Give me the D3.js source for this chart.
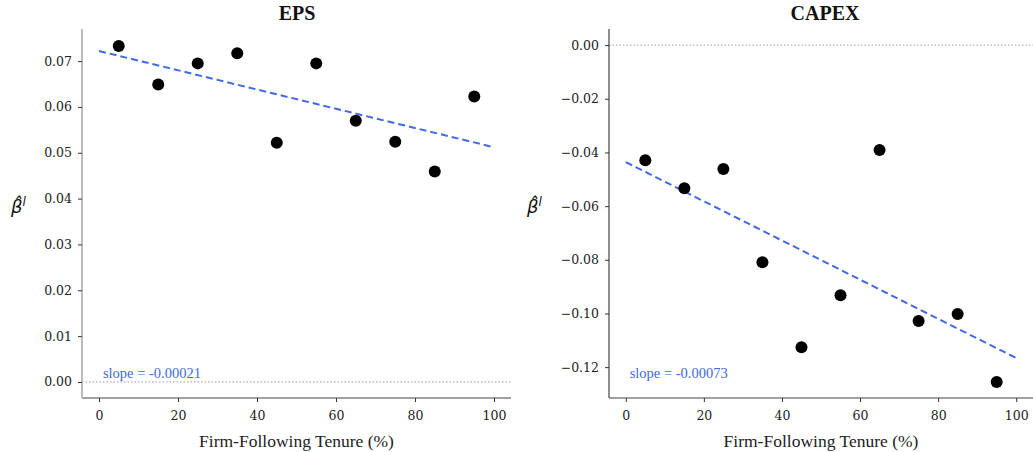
<!DOCTYPE html>
<html>
<head>
<meta charset="utf-8">
<script src="https://cdn.jsdelivr.net/npm/d3@7"></script>
<style>
  html, body { margin: 0; padding: 0; background: #fff; }
  svg { display: block; font-family: "Liberation Serif", "DejaVu Serif", serif; }
</style>
</head>
<body>
<svg id="chart" width="1033" height="452"></svg>
<script>
// Tenure bins (percent of firm-following tenure)
const tenure = [5, 15, 25, 35, 45, 55, 65, 75, 85, 95];
// Estimated coefficients by tenure bin
const epsBeta = [0.0733, 0.0649, 0.0695, 0.0717, 0.0522, 0.0695, 0.0570, 0.0524, 0.0459, 0.0623];
const capexBeta = [-0.0429, -0.0533, -0.0462, -0.0809, -0.1126, -0.0932, -0.0391, -0.1028, -0.1002, -0.1255];
// Fitted lines (intercept, slope)
const epsFit = { intercept: 0.0722, slope: -0.00021 };
const capexFit = { intercept: -0.0436, slope: -0.00073 };
const xTicks = [0, 20, 40, 60, 80, 100];
const epsTicks = [0.00, 0.01, 0.02, 0.03, 0.04, 0.05, 0.06, 0.07];
const capexTicks = [0.00, -0.02, -0.04, -0.06, -0.08, -0.10, -0.12];

const svg = d3.select("#chart");
const blue = "#4169e1";
const tickFont = "'DejaVu Serif', serif";

function panel(opts) {
  const g = svg.append("g");
  const x = d3.scaleLinear().domain([-4.3, 104.3]).range([opts.left, opts.right]);
  const y = d3.scaleLinear().domain(opts.yDomain).range([398, 29]);

  // zero reference line
  g.append("line")
    .attr("x1", opts.left).attr("x2", opts.zeroEnd)
    .attr("y1", y(0)).attr("y2", y(0))
    .attr("stroke", "#999").attr("stroke-width", 1)
    .attr("stroke-dasharray", "1.5,2");

  // axes
  const xAxis = g.append("g").attr("transform", `translate(0,398)`)
    .call(d3.axisBottom(x).tickValues(xTicks).tickSize(4).tickPadding(9).tickFormat(d3.format("d")));
  xAxis.select(".domain").attr("stroke", "#444").attr("stroke-width", 1.2)
    .attr("d", `M${opts.left},0H${opts.right}`);
  xAxis.selectAll(".tick line").attr("stroke", "#333");
  xAxis.selectAll("text").attr("font-size", 12.5).attr("fill", "#222")
    .style("font-family", tickFont);

  const yAxis = g.append("g").attr("transform", `translate(${opts.left},0)`)
    .call(d3.axisLeft(y).tickValues(opts.yTicks).tickSize(4).tickPadding(6)
      .tickFormat(d => d3.format(".2f")(d).replace("-", "\u2212")));
  yAxis.select(".domain").attr("stroke", opts.ySpine).attr("stroke-width", opts.ySpineW)
    .attr("d", `M0,398V29`);
  yAxis.selectAll(".tick line").attr("stroke", "#333");
  yAxis.selectAll("text").attr("font-size", 12.5).attr("fill", "#222")
    .style("font-family", tickFont);

  // fitted trend
  const line = d3.line().x(d => x(d)).y(d => y(opts.fit.intercept + opts.fit.slope * d));
  g.append("path").datum([0, 100]).attr("d", line)
    .attr("fill", "none").attr("stroke", blue).attr("stroke-width", 2)
    .attr("stroke-dasharray", "7,4");

  // coefficient points
  g.selectAll("circle").data(tenure).join("circle")
    .attr("cx", d => x(d))
    .attr("cy", (d, i) => y(opts.values[i]))
    .attr("r", 6).attr("fill", "#000");

  // slope annotation
  g.append("text").attr("x", x(1)).attr("y", 378)
    .attr("font-size", 14.5).attr("fill", blue)
    .text(`slope = ${opts.fit.slope.toFixed(5)}`);

  // title
  g.append("text").attr("x", opts.titleX).attr("y", 20)
    .attr("text-anchor", "middle").attr("font-weight", "bold").attr("font-size", 20)
    .attr("fill", "#111").text(opts.title);

  // x label
  g.append("text").attr("x", (x(0) + x(100)) / 2).attr("y", 447)
    .attr("text-anchor", "middle").attr("font-size", 17.5).attr("fill", "#222")
    .text("Firm-Following Tenure (%)");

  // y label: beta-hat with superscript l
  const yl = g.append("text").attr("x", opts.yLabelX).attr("y", 213)
    .attr("font-size", 18).attr("font-style", "italic").attr("fill", "#111")
    .style("font-family", "'DejaVu Sans', sans-serif");
  yl.append("tspan").text("\u03B2\u0302");
  yl.append("tspan").attr("font-size", 12).attr("dy", -7).text("l");
}

panel({
  title: "EPS", titleX: 297, left: 82, right: 511, zeroEnd: 511,
  yDomain: [-0.0035, 0.0770], yTicks: epsTicks, values: epsBeta, fit: epsFit,
  ySpine: "#bbb", ySpineW: 2, yLabelX: 11
});
panel({
  title: "CAPEX", titleX: 825, left: 609, right: 1033, zeroEnd: 1033,
  yDomain: [-0.1315, 0.0060], yTicks: capexTicks, values: capexBeta, fit: capexFit,
  ySpine: "#444", ySpineW: 1.2, yLabelX: 527
});
</script>
</body>
</html>
